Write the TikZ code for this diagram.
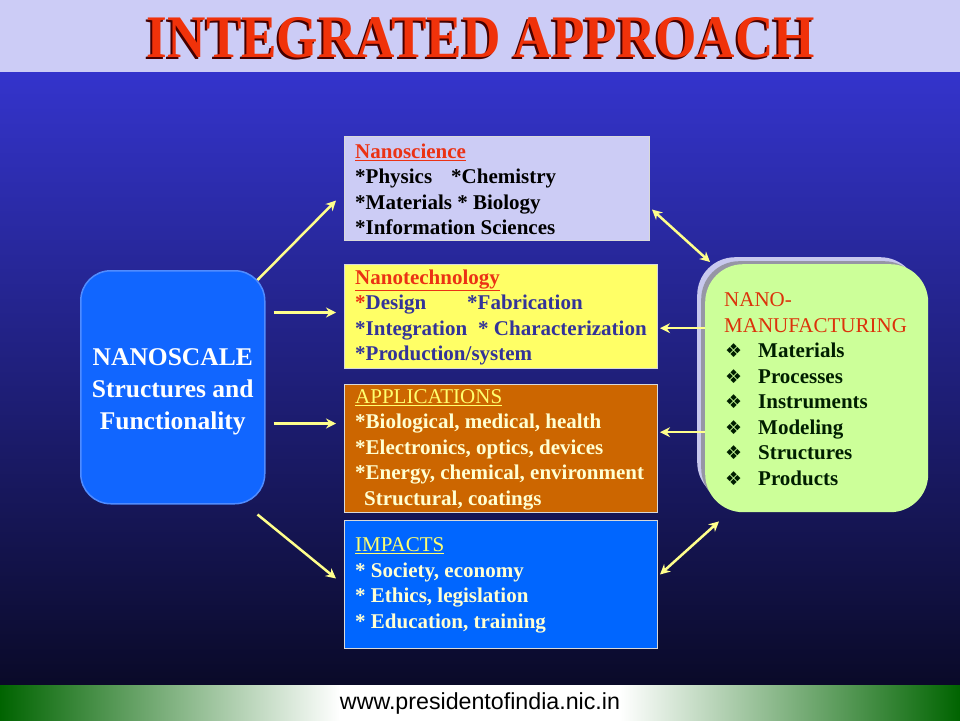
\documentclass[tikz,border=0pt]{standalone}
\usepackage{graphicx}
\usepackage{fontspec}
\setmainfont{Liberation Serif}
\newfontfamily\dvs{DejaVu Sans}
\newfontfamily\lsans{Liberation Sans}
\usetikzlibrary{arrows.meta,calc}
\definecolor{bandlav}{RGB}{204,204,246}
\definecolor{bgtop}{RGB}{52,52,204}
\definecolor{bgmid}{RGB}{36,36,160}
\definecolor{bgbot}{RGB}{10,10,40}
\definecolor{fgreen}{RGB}{0,100,0}
\definecolor{titlered}{RGB}{240,50,10}
\definecolor{titlesh}{RGB}{70,0,0}
\definecolor{lavbox}{RGB}{204,204,245}
\definecolor{yelbox}{RGB}{255,255,102}
\definecolor{navytxt}{RGB}{51,51,153}
\definecolor{headred}{RGB}{235,50,20}
\definecolor{orbox}{RGB}{204,102,0}
\definecolor{creamtxt}{RGB}{255,255,210}
\definecolor{yelhead}{RGB}{255,255,110}
\definecolor{bluebox}{RGB}{0,102,255}
\definecolor{lbfill}{RGB}{17,102,255}
\definecolor{lbedge}{RGB}{80,140,255}
\definecolor{greenbox}{RGB}{204,255,153}
\definecolor{frlav}{RGB}{200,200,238}
\definecolor{frgrey}{RGB}{150,150,165}
\definecolor{arrowy}{RGB}{255,255,140}
\definecolor{mfred}{RGB}{220,50,10}
\definecolor{mftxt}{RGB}{0,30,0}
\tikzset{
  midbox/.style={draw=white!85!black, line width=1pt, anchor=north west, inner sep=0pt},
  boxtext/.style={anchor=west, align=left, inner sep=0pt, font=\fontsize{21}{25.5}\selectfont\bfseries},
  arr/.style={draw=arrowy, line width=2.5pt, -{Stealth[length=10pt,width=10pt]}},
  darr/.style={draw=arrowy, line width=2.5pt, {Stealth[length=10pt,width=10pt]}-{Stealth[length=10pt,width=10pt]}}
}
\newcommand{\mfb}[1]{\hspace*{1pt}\makebox[33pt][l]{\dvs\fontsize{19}{19}\selectfont ❖}#1}
\begin{document}
\begin{tikzpicture}[x=1pt,y=-1pt]
\useasboundingbox (0,0) rectangle (960,720);
% background
\fill[bandlav] (0,0) rectangle (960,72);
\shade[top color=bgtop, middle color=bgmid, bottom color=bgbot] (0,72) rectangle (960,685);
\shade[left color=fgreen, right color=white] (0,685) rectangle (340,720);
\fill[white] (339,685) rectangle (621,720);
\shade[left color=white, right color=fgreen] (620,685) rectangle (960,720);
% title (with its drop shadow)
\node[text=titlesh, inner sep=0pt] (titlesh) at (479,40) {\resizebox{668pt}{40pt}{\bfseries INTEGRATED APPROACH}};
\node[text=titlered, inner sep=0pt] (title) at (481,38) {\resizebox{668pt}{40pt}{\bfseries INTEGRATED APPROACH}};
% footer
\node[inner sep=0pt] (url) at (480,703) {\resizebox{280pt}{!}{\lsans\fontsize{20}{20}\selectfont www.presidentofindia.nic.in}};
% left box
\node[draw=lbedge, line width=1.5pt, fill=lbfill, rounded corners=30pt, minimum width=184pt, minimum height=233pt,
      anchor=north west] (L) at (80,270) {};
\node[text=white, align=center, inner sep=0pt, font=\fontsize{25.5}{32}\selectfont\bfseries] (Lt) at ([yshift=-5pt]L.center)
      {NANOSCALE\\Structures and\\Functionality};
% middle boxes
\node[midbox, fill=lavbox, minimum width=305pt, minimum height=104pt] (sci) at (344,136) {};
\node[boxtext, text=black] (scit) at ($(sci.west)+(11,1)$)
  {{\color{headred}\underline{Nanoscience}}\\
   \makebox[96pt][l]{*Physics}*Chemistry\\
   *Materials * Biology\\
   *Information Sciences};
\node[midbox, fill=yelbox, minimum width=313pt, minimum height=104pt] (tech) at (344,264) {};
\node[boxtext, text=navytxt] (techt) at ($(tech.west)+(11,1)$)
  {{\color{headred}\underline{Nanotechnology}}\\
   \makebox[112pt][l]{{\color{headred}*}Design}*Fabrication\\
   \makebox[123pt][l]{*Integration}* Characterization\\
   *Production/system};
\node[midbox, fill=orbox, minimum width=313pt, minimum height=128pt] (app) at (344,384) {};
\node[boxtext, text=creamtxt] (appt) at ($(app.west)+(11,1)$)
  {{\color{yelhead}\mdseries\underline{APPLICATIONS}}\\
   *Biological, medical, health\\
   *Electronics, optics, devices\\
   *Energy, chemical, environment\\
   \hspace*{9pt}Structural, coatings};
\node[midbox, fill=bluebox, minimum width=313pt, minimum height=128pt] (imp) at (344,520) {};
\node[boxtext, text=creamtxt] (impt) at ($(imp.west)+(11,1)$)
  {{\color{yelhead}\mdseries\underline{IMPACTS}}\\
   * Society, economy\\
   * Ethics, legislation\\
   * Education, training};
% right box
\node[fill=frlav, rounded corners=38pt, minimum width=221pt, minimum height=243pt, anchor=north west, inner sep=0pt] (mff1) at (697,257) {};
\node[fill=frgrey, rounded corners=38pt, minimum width=221pt, minimum height=245pt, anchor=north west, inner sep=0pt] (mff2) at (701,261) {};
\node[fill=greenbox, rounded corners=38pt, minimum width=223pt, minimum height=248pt, anchor=north west, inner sep=0pt] (mf) at (705,264) {};
\node[boxtext, text=mftxt] (mft) at ($(mf.west)+(19,1)$)
  {{\color{mfred}\mdseries NANO-}\\
   {\color{mfred}\mdseries MANUFACTURING}\\
   \mfb{Materials}\\
   \mfb{Processes}\\
   \mfb{Instruments}\\
   \mfb{Modeling}\\
   \mfb{Structures}\\
   \mfb{Products}};
% arrows from left box
\draw[arr] ([xshift=-8pt,yshift=-10pt]L.north east) -- ([xshift=-8pt,yshift=-12pt]sci.west);
\coordinate (t1) at ([yshift=4pt]tech.west);
\draw[arr, shorten <=8pt, shorten >=8pt] (t1 -| L.east) -- (t1);
\coordinate (a1) at ([yshift=25pt]app.west);
\draw[arr, shorten <=8pt, shorten >=8pt] (a1 -| L.east) -- (a1);
\draw[arr] ([xshift=-8pt,yshift=-10pt]L.south east) -- ([xshift=-8pt,yshift=6pt]imp.west);
% arrows from right box
\draw[darr] ([xshift=2pt,yshift=-21pt]sci.east) -- ([xshift=5pt,yshift=2pt]mf.north west);
\coordinate (m1) at ([yshift=60pt]mf.west);
\draw[arr, shorten >=2pt] (m1) -- (m1 -| tech.east);
\coordinate (m2) at ([yshift=-44pt]mf.west);
\draw[arr, shorten >=2pt] (m2) -- (m2 -| app.east);
\draw[darr] ([xshift=2pt,yshift=10pt]imp.east) -- ([xshift=14pt,yshift=-9pt]mf.south west);
\end{tikzpicture}
\end{document}
